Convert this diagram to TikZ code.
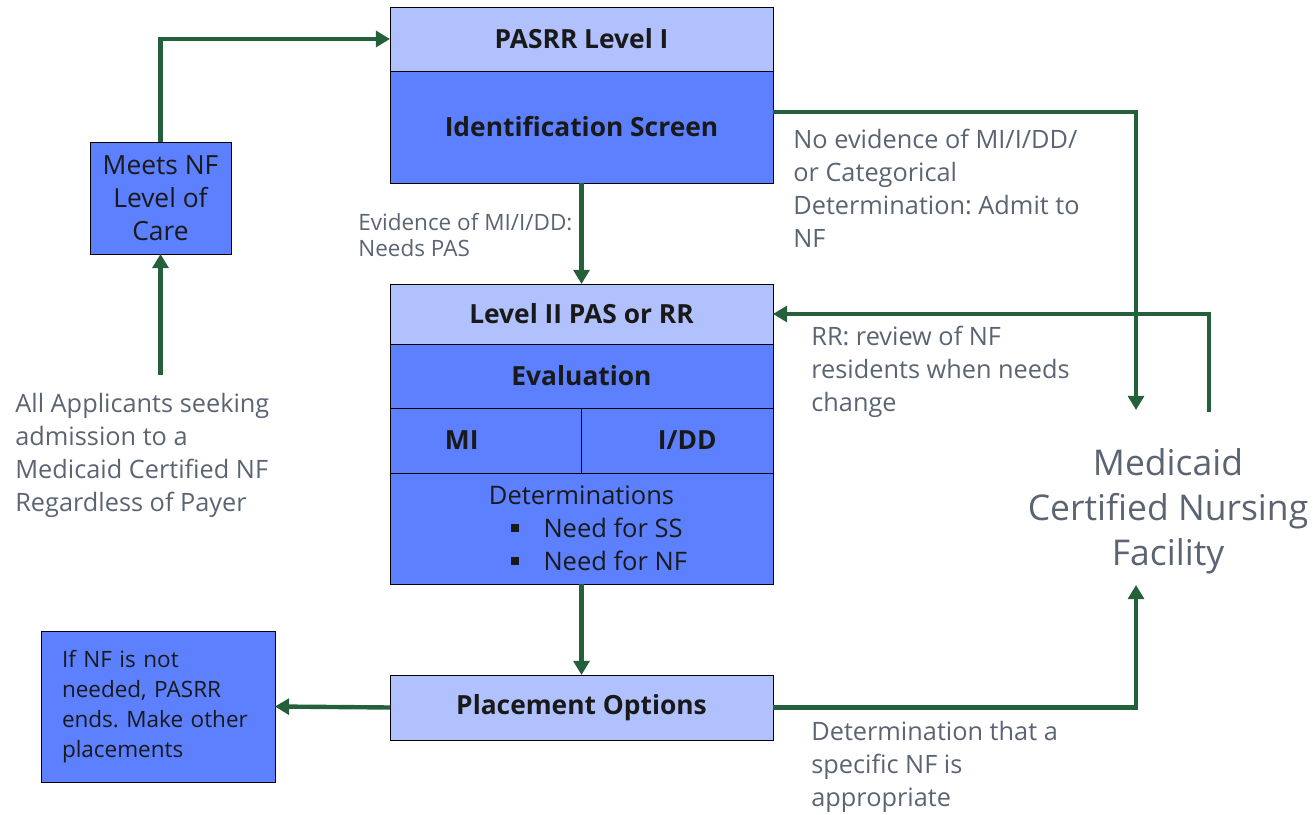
\documentclass[tikz,border=0pt]{standalone}
\usepackage{fontspec}
\setmainfont{Open Sans}
\usetikzlibrary{positioning,arrows.meta}
\definecolor{boxlight}{HTML}{B0C1FD}
\definecolor{boxdark}{HTML}{5C80FE}
\definecolor{flowgreen}{HTML}{24603A}
\definecolor{labelgray}{HTML}{5B6472}
\newcommand{\sqbul}{\raisebox{0.12cm}{\rule{0.16cm}{0.16cm}}\hspace{0.5cm}}
\frenchspacing
\begin{document}
\begin{tikzpicture}[
    lightbox/.style={draw,rectangle,fill=boxlight,minimum width=7.66cm,inner sep=0pt,outer sep=0pt,text=black!90,font=\bfseries\fontsize{15}{18}\selectfont},
    darkbox/.style={lightbox,fill=boxdark},
    note/.style={inner sep=0pt,align=left,anchor=north west,text=labelgray,font=\fontsize{14.4}{18.8}\selectfont},
    flow/.style={draw=flowgreen,line width=2.5pt,-{Triangle[length=8pt,width=9pt]}}]
        \useasboundingbox (0,0) rectangle (26.28,16.28);

        \node[lightbox,minimum height=1.28cm] (L1) at (11.63,15.5) {PASRR Level I};
        \node[darkbox,minimum height=2.24cm,below=0pt of L1] (IDS) {Identification Screen};
        \node[lightbox,minimum height=1.2cm] (L2) at (11.63,10.0) {Level II PAS or RR};
        \node[darkbox,minimum height=1.28cm,below=0pt of L2] (EV) {Evaluation};
        \node[darkbox,minimum width=3.83cm,minimum height=1.3cm,anchor=north west] (MI) at (EV.south west) {MI\hspace*{0.96cm}};
        \node[darkbox,minimum width=3.83cm,minimum height=1.3cm,anchor=north east] (IDD) at (EV.south east) {\hspace*{0.4cm}I/DD};
        \node[darkbox,minimum height=2.22cm,align=center,font=\fontsize{14.5}{18.8}\selectfont,below=1.3cm of EV] (DET)
            {Determinations\\ \makebox[2.84cm][l]{\sqbul Need for SS}\\ \makebox[2.84cm][l]{\sqbul Need for NF}};
        \node[lightbox,minimum height=1.3cm] (PO) at (11.63,2.13) {Placement Options};

        \node[darkbox,minimum width=2.82cm,minimum height=2.24cm,align=center,font=\fontsize{15}{18.8}\selectfont] (NF) at (3.21,12.32) {Meets NF\\Level of\\Care};
        \node[darkbox,minimum width=4.68cm,minimum height=3.02cm,text width=3.84cm,align=left,font=\fontsize{12.8}{17}\selectfont] (IFNF) at (3.16,2.15)
            {If NF is not needed, PASRR ends. Make other placements};

        \node[note] (APP) at (0.3,8.42) {All Applicants seeking\\admission to a\\Medicaid Certified NF\\Regardless of Payer};
        \node[note,font=\fontsize{12.8}{14.8}\selectfont] (EVID) at (7.16,12.02) {Evidence of MI/I/DD:\\Needs PAS};
        \node[note] (NOEV) at (15.86,13.7) {No evidence of MI/I/DD/\\or Categorical\\Determination: Admit to\\NF};
        \node[note] (RRL) at (16.22,9.76) {RR: review of NF\\residents when needs\\change};
        \node[note] (DETL) at (16.22,1.86) {Determination that a\\specific NF is\\appropriate};
        \node[inner sep=0pt,align=center,text=labelgray,font=\fontsize{20.2}{25.6}\selectfont] (MED) at (23.36,6.06) {Medicaid\\Certified Nursing\\Facility};

        \coordinate (c0) at (3.21,8.78);
        \coordinate (c1) at (22.72,8.08);
        \coordinate (c2) at (24.18,8.04);
        \coordinate (c3) at (22.72,4.58);

        \path [flow] (c0) -- (NF.south);
        \path [flow] (NF.north) |- (L1.west);
        \path [flow] (IDS.south) -- (L2.north);
        \path [flow] ([yshift=0.3cm]IDS.east) -| (c1);
        \path [flow] (c2) |- (L2.east);
        \path [flow] (DET.south) -- (PO.north);
        \path [flow] (PO.west) -- (IFNF.east);
        \path [flow] (PO.east) -| (c3);
    \end{tikzpicture}
\end{document}
